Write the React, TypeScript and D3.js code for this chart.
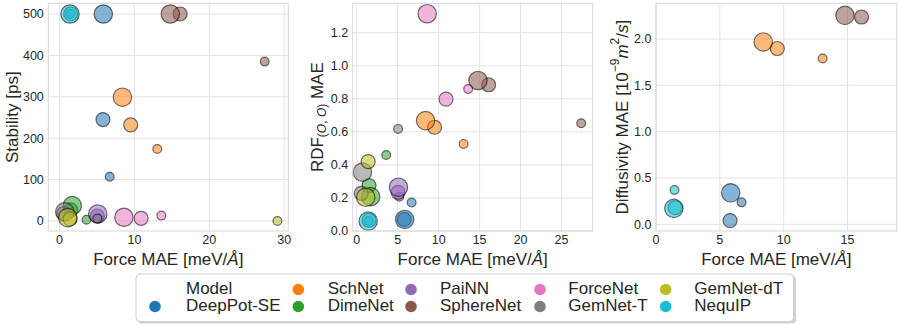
import React from "react";
import * as d3 from "d3";

const models = ["DeepPot-SE", "SchNet", "DimeNet", "PaiNN", "SphereNet", "ForceNet", "GemNet-T", "GemNet-dT", "NequIP"];
const modelColors = ["#1f77b4", "#ff7f0e", "#2ca02c", "#9467bd", "#8c564b", "#e377c2", "#7f7f7f", "#bcbd22", "#17becf"];

// one point per training set size, for each model
const trainSizes = [1000, 10000, 90000];

const forceMAE = [
  [6.7, 5.8, 5.85],
  [13.05, 9.5, 8.4],
  [3.6, 1.5, 1.7],
  [5.2, 5.05, 5.1],
  [27.4, 16.1, 14.8],
  [13.6, 10.9, 8.6],
  [5.05, 0.55, 0.7],
  [29.1, 1.4, 1.1],
  [1.45, 1.5, 1.4],
];

const stability = [
  [107, 245, 500],
  [174, 232, 299],
  [3, 27, 37],
  [6, 12, 17],
  [385, 500, 500],
  [13, 6.5, 9],
  [6, 18, 22],
  [0, 5, 8],
  [500, 500, 500],
];

const rdfMAE = [
  [0.172, 0.07, 0.07],
  [0.527, 0.628, 0.668],
  [0.46, 0.275, 0.208],
  [0.208, 0.234, 0.265],
  [0.652, 0.885, 0.911],
  [0.859, 0.798, 1.315],
  [0.618, 0.228, 0.356],
  [null, 0.42, 0.204],
  [0.06, 0.065, 0.06],
];

const diffusivityMAE = [
  [0.237, 0.04, 0.34],
  [1.79, 1.897, 1.968],
  [null, null, null],
  [null, null, null],
  [null, 2.237, 2.255],
  [null, null, null],
  [null, null, null],
  [null, null, null],
  [0.37, 0.18, 0.172],
];

const stabilityTicks = [0, 100, 200, 300, 400, 500];
const rdfTicks = [0, 0.2, 0.4, 0.6, 0.8, 1.0, 1.2];
const diffTicks = [0, 0.5, 1.0, 1.5, 2.0];

const FONT = "'Liberation Sans', Arial, Helvetica, sans-serif";
const TOP = 3.3;
const BOTTOM = 231;

const radius = d3.scaleOrdinal<number, number>().domain(trainSizes).range([4.4, 7, 9.2]);

function XLabel({ cx }) {
  return (
    <text x={cx} y={259} textAnchor="middle" dominantBaseline="central" fontSize={17} fill="#262626">
      Force MAE [meV/<tspan fontStyle="italic">Å</tspan>]
    </text>
  );
}

function Panel({ id, left, right, xDomain, xTicks, yDomain, yTicks, yFmt, values, yLabel, yLabelX }) {
  const x = d3.scaleLinear().domain(xDomain).range([left, right]);
  const y = d3.scaleLinear().domain(yDomain).range([BOTTOM, TOP]);

  const points = [];
  models.forEach((m, i) => {
    trainSizes.forEach((s, j) => {
      const v = values[i][j];
      if (v == null) return;
      points.push({ key: m + s, cx: x(forceMAE[i][j]), cy: y(v), r: radius(s), color: modelColors[i] });
    });
  });

  return (
    <g>
      <defs>
        <clipPath id={"clip-" + id}>
          <rect x={left} y={TOP} width={right - left} height={BOTTOM - TOP} />
        </clipPath>
      </defs>
      <rect x={left} y={TOP} width={right - left} height={BOTTOM - TOP} fill="#fff" />
      {xTicks.map((t) => (
        <line key={"gx" + t} x1={x(t)} x2={x(t)} y1={TOP} y2={BOTTOM} stroke="#e3e3e3" strokeWidth={1} />
      ))}
      {yTicks.map((t) => (
        <line key={"gy" + t} x1={left} x2={right} y1={y(t)} y2={y(t)} stroke="#e3e3e3" strokeWidth={1} />
      ))}
      <g clipPath={`url(#clip-${id})`}>
        {points.map((p) => (
          <circle
            key={p.key}
            cx={p.cx}
            cy={p.cy}
            r={p.r}
            fill={p.color}
            fillOpacity={0.55}
            stroke="#000"
            strokeOpacity={0.55}
            strokeWidth={1.2}
          />
        ))}
      </g>
      <rect x={left} y={TOP} width={right - left} height={BOTTOM - TOP} fill="none" stroke="#d6d6d6" strokeWidth={1} />
      {xTicks.map((t) => (
        <text key={"tx" + t} x={x(t)} y={235} dy="0.72em" textAnchor="middle" fontSize={12.5} fill="#262626">
          {t}
        </text>
      ))}
      {yTicks.map((t) => (
        <text key={"ty" + t} x={left - 4.5} y={y(t)} dy="0.35em" textAnchor="end" fontSize={12.5} fill="#262626">
          {yFmt(t)}
        </text>
      ))}
      <text
        transform={`translate(${yLabelX},${(TOP + BOTTOM) / 2}) rotate(-90)`}
        textAnchor="middle"
        dominantBaseline="central"
        fontSize={17}
        fill="#262626"
      >
        {yLabel}
      </text>
      <XLabel cx={(left + right) / 2} />
    </g>
  );
}

function Legend() {
  const entries = [{ label: "Model", color: null }].concat(models.map((m, i) => ({ label: m, color: modelColors[i] })));
  const colMarker = [155, 298.3, 411, 540, 665.7];
  const colText = [186, 327.7, 440, 568.3, 694.3];
  const rowY = [288.5, 305.5];
  return (
    <g>
      <rect x={138} y={276} width={658} height={47.5} rx={4} fill="#000" opacity={0.18} />
      <rect x={136} y={274} width={657.5} height={47.5} rx={4} fill="#fff" stroke="#cfcfcf" strokeWidth={1} />
      {entries.map((e, k) => {
        const col = Math.floor(k / 2);
        const row = k % 2;
        return (
          <g key={e.label}>
            {e.color && <circle cx={colMarker[col]} cy={rowY[row] + 1} r={5.8} fill={e.color} />}
            <text x={colText[col]} y={rowY[row]} dominantBaseline="central" fontSize={17} fill="#262626">
              {e.label}
            </text>
          </g>
        );
      })}
    </g>
  );
}

export default function App() {
  const intFmt = d3.format("d");
  const decFmt = d3.format(".1f");
  return (
    <div style={{ position: "absolute", left: 0, top: 0 }}>
      <svg width={900} height={325} style={{ display: "block", fontFamily: FONT }}>
        <rect width={900} height={325} fill="#fff" />
        <Panel
          id="stab"
          left={48.3}
          right={288.3}
          xDomain={[-1.5, 30.55]}
          xTicks={[0, 10, 20, 30]}
          yDomain={[-24.2, 525.8]}
          yTicks={stabilityTicks}
          yFmt={intFmt}
          values={stability}
          yLabel="Stability [ps]"
          yLabelX={12}
        />
        <Panel
          id="rdf"
          left={352.7}
          right={592.7}
          xDomain={[-0.49, 28.8]}
          xTicks={[0, 5, 10, 15, 20, 25]}
          yDomain={[0, 1.378]}
          yTicks={rdfTicks}
          yFmt={decFmt}
          values={rdfMAE}
          yLabel={
            <>
              RDF
              <tspan fontSize={12} dy={5}>
                (<tspan fontStyle="italic">O</tspan>, <tspan fontStyle="italic">O</tspan>)
              </tspan>
              <tspan dy={-5}> MAE</tspan>
            </>
          }
          yLabelX={317}
        />
        <Panel
          id="diff"
          left={656}
          right={896.7}
          xDomain={[0, 18.85]}
          xTicks={[0, 5, 10, 15]}
          yDomain={[-0.072, 2.385]}
          yTicks={diffTicks}
          yFmt={decFmt}
          values={diffusivityMAE}
          yLabel={
            <>
              Diffusivity MAE [10
              <tspan fontSize={12} dy={-7}>−9</tspan>
              <tspan dy={7} fontStyle="italic">m</tspan>
              <tspan fontSize={12} dy={-7}>2</tspan>
              <tspan dy={7}>/</tspan>
              <tspan fontStyle="italic">s</tspan>]
            </>
          }
          yLabelX={622}
        />
        <Legend />
      </svg>
    </div>
  );
}
